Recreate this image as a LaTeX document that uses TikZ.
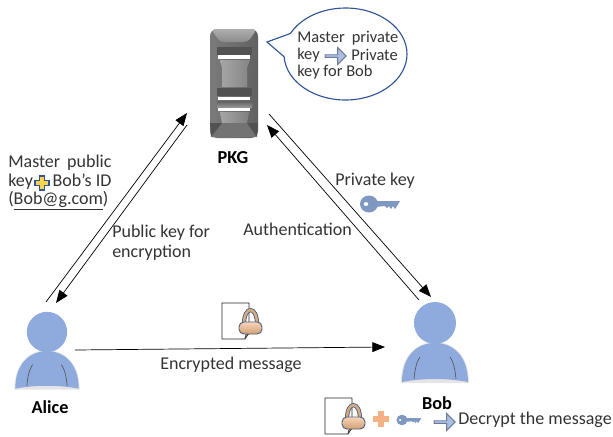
\documentclass[tikz,border=0pt]{standalone}
\usepackage{fontspec}
\setmainfont{Carlito}
\usetikzlibrary{arrows.meta,shapes.callouts,shapes.arrows}
\definecolor{personblue}{HTML}{8FAADC}
\definecolor{bubbleblue}{HTML}{2F5597}
\definecolor{keyblue}{HTML}{7E98C2}
\definecolor{arrowblue}{HTML}{A9BEE3}
\definecolor{plusorange}{HTML}{F4B183}
\definecolor{plusyellow}{HTML}{FFD34D}
\pgfdeclareradialshading{headshade}{\pgfpoint{0bp}{0bp}}{color(0bp)=(personblue);color(41bp)=(personblue);color(50bp)=(personblue!45!white);color(100bp)=(personblue!45!white)}
\tikzset{
    lbl/.style={inner sep=0pt,anchor=west,font=\fontsize{12.8}{14}\selectfont,text=black!80},
    bubbletxt/.style={lbl,font=\fontsize{11.7}{14}\selectfont},
    namelbl/.style={inner sep=0pt,font=\fontsize{13}{14}\selectfont\bfseries},
    conn/.style={-{Triangle[length=9pt,width=7pt]},line width=0.5pt},
    blockarrow/.style={single arrow,draw=black!35!arrowblue,fill=arrowblue,line width=0.7pt,inner sep=0pt,
        minimum height=15pt,minimum width=12pt,single arrow head extend=2pt,single arrow tip angle=90},
    pics/person/.style={code={
        \fill[black!10] (-34,60) .. controls (-34,32) and (-18,19) .. (0,19) .. controls (18,19) and (34,32) .. (34,60) -- cycle;
        \fill[personblue] (-33,59) .. controls (-33,33) and (-18,20) .. (0,20) .. controls (18,20) and (33,33) .. (33,59)
            .. controls (12,55) and (-12,55) .. (-33,59) -- cycle;
        \draw[black!70,line width=0.4pt] (-21,56) .. controls (-20,45) and (-18,38) .. (-15,34);
        \draw[black!70,line width=0.4pt] (21,56) .. controls (20,45) and (18,38) .. (15,34);
        \shade[shading=headshade] (0,0) circle (21);
    }},
    pics/keyicon/.style={code={
        \fill[keyblue,even odd rule] (0,0) ellipse (9 and 8.5) (-3,0) ellipse (2.5 and 2);
        \fill[keyblue] (6,-3) -- (31,-3) -- (28,2) -- (26,5) -- (24,2) -- (22,5) -- (20,2) -- (18,4) -- (16,2) -- (6,3) -- cycle;
    }},
    pics/plusicon/.style={code={
        \draw[pic actions,line width=0.8pt] (-2.5,-7) -- (2.5,-7) -- (2.5,-2.5) -- (7,-2.5) -- (7,2.5) -- (2.5,2.5)
            -- (2.5,7) -- (-2.5,7) -- (-2.5,2.5) -- (-7,2.5) -- (-7,-2.5) -- (-2.5,-2.5) -- cycle;
    }},
    pics/lockdoc/.style={code={
        \draw[black!85,line width=0.5pt,fill=white] (0,0) -- (27,0) -- (27,30) -- (23,36) -- (0,36) -- cycle;
        \draw[black!70,line width=0.8pt] (23,36) -- (24,32) -- (27,31);
        \draw[black!35!keyblue,line width=3pt] (22,21) .. controls (22,2.5) and (35,2.5) .. (35,21);
        \draw[brown!65!white,line width=1.7pt] (22,21) .. controls (22,2.5) and (35,2.5) .. (35,21);
        \shade[top color=plusorange!55!white,bottom color=brown!75!white,draw=black!35!keyblue,rounded corners=3.5pt,line width=0.7pt]
            (17,19) rectangle (40,31);
    }}
}
\begin{document}
\begin{tikzpicture}[x=0.025cm,y=-0.025cm]
    \useasboundingbox (0,0) rectangle (613,436);
    % PKG
    \shade[left color=black!52,right color=black!62,rounded corners=5pt] (210,29) rectangle (258,138);
    \shade[top color=black!32,bottom color=black!45,rounded corners=3pt] (211,29) -- (257,29) -- (248,42) -- (220,42) -- cycle;
    \fill[black!68] (217,47) rectangle (252,55);
    \shade[left color=black!35,right color=black!48] (220,60) -- (250,60) -- (247,68) -- (247,87) -- (222,87) -- (222,68) -- cycle;
    \fill[black!68] (217,88) rectangle (252,96);
    \shade[top color=black!62,bottom color=black!42] (217,101) rectangle (252,107);
    \shade[left color=black!35,right color=black!50] (220,112) -- (249,112) -- (247,123) -- (222,123) -- cycle;
    \fill[black!55] (211,137) -- (257,137) -- (247,123) -- (222,123) -- cycle;
    \fill[black!68] (210,123) -- (222,123) -- (211,137) -- cycle (258,123) -- (247,123) -- (257,137) -- cycle;
    \foreach \y in {57,98.5,109.5} {
        \fill[white] (218,\y-1.8) rectangle (250,\y+1.8);
    }
    \node[namelbl] (pkg) at (233,158) {PKG};
    % bubble
    \node[ellipse callout,draw=bubbleblue,fill=white,line width=0.8pt,minimum width=123*0.025cm,minimum height=92*0.025cm,
        callout absolute pointer={(267,42)},callout pointer arc=30] (bubble) at (345.5,54) {};
    \node[bubbletxt] (line1) at (297,38) {Master\hspace{5pt}private};
    \node[bubbletxt] (line2) at (297,55) {key};
    \node[blockarrow] (arrow1) at (335,56) {};
    \node[bubbletxt] (line2b) at (351,55) {Private};
    \node[bubbletxt] (line3) at (297,72) {key for Bob};
    % people
    \pic at (435,323) {person};
    \pic[scale=0.96] at (47,332) {person};
    \node[namelbl] (alice) at (50,407) {Alice};
    \node[namelbl] (bob) at (437,403) {Bob};
    % connectors
    \coordinate (aliceA) at (46,302);
    \coordinate (aliceB) at (56,303);
    \coordinate (aliceC) at (75,350);
    \coordinate (pkgA) at (187,113);
    \coordinate (pkgB) at (187,125);
    \coordinate (pkgC) at (269,114);
    \coordinate (pkgD) at (267,125);
    \coordinate (bobA) at (431,297);
    \coordinate (bobB) at (419,300);
    \coordinate (bobC) at (385,347);
    \draw[conn] (aliceA) -- (pkgA);
    \draw[conn] (pkgB) -- (aliceB);
    \draw[conn] (pkgC) -- (bobA);
    \draw[conn] (bobB) -- (pkgD);
    \draw[conn] (aliceC) -- (bobC);
    % labels
    \node[lbl] (masterpub) at (8,163) {Master\hspace{5pt}public};
    \node[lbl] (keybob) at (8,182) {key\hspace{14pt}Bob's ID};
    \pic[draw=bubbleblue,fill=plusyellow] at (42,183) {plusicon};
    \node[lbl] (mail) at (8,201) {(\underline{Bob@g.com})};
    \node[lbl] (pubenc) at (112,233) {Public key for};
    \node[lbl] (enc) at (112,253) {encryption};
    \node[lbl] (privkey) at (335,181) {Private key};
    \pic at (369,204) {keyicon};
    \node[lbl] (auth) at (243,229) {Authentication};
    \pic at (222,303) {lockdoc};
    \node[lbl] (encmsg) at (160,365) {Encrypted message};
    % decrypt row
    \pic at (325,398) {lockdoc};
    \pic[draw=plusorange,fill=plusorange] at (381,419) {plusicon};
    \pic[scale=0.62] at (402,420) {keyicon};
    \node[blockarrow] (arrow2) at (444,422) {};
    \node[lbl] (decrypt) at (458,420) {Decrypt the message};
\end{tikzpicture}
\end{document}
